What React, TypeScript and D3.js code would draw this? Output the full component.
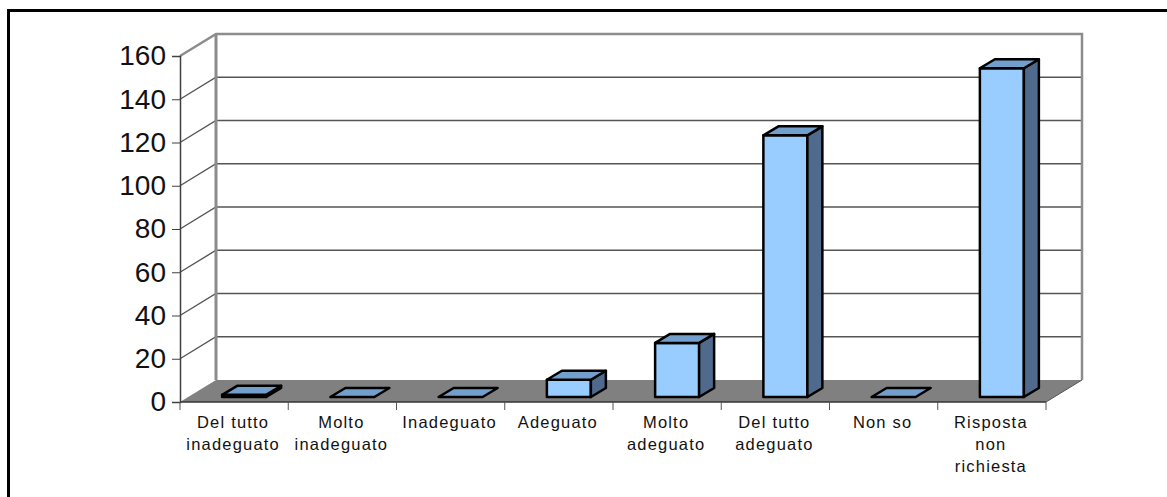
import { useEffect, useRef } from 'react';
import * as d3 from 'd3';

const categories = [
  'Del tutto\ninadeguato',
  'Molto\ninadeguato',
  'Inadeguato',
  'Adeguato',
  'Molto\nadeguato',
  'Del tutto\nadeguato',
  'Non so',
  'Risposta\nnon\nrichiesta',
];
const values = [1, 0, 0, 8, 25, 121, 0, 152];
const yTicks = [0, 20, 40, 60, 80, 100, 120, 140, 160];

const width = 1167;
const height = 497;
const margin = { top: 56, right: 121, bottom: 95, left: 180 };
// how far the back wall sits behind the front axis
const depth = { x: 36, y: 22 };
// bar placement on the floor
const barShift = { x: 10, y: 5 };
const barDepth = { x: 15, y: 9 };
const barWidth = 44;

const App = () => {
  const ref = useRef<SVGSVGElement | null>(null);

  useEffect(() => {
    const svg = d3.select(ref.current);
    svg.selectAll('*').remove();

    const x = d3.scaleBand<number>()
      .domain(categories.map((_, i) => i))
      .range([margin.left, width - margin.right]);
    const y = d3.scaleLinear().domain([0, 160]).range([height - margin.bottom, margin.top]);

    const x0 = x.range()[0];
    const x1 = x.range()[1];
    const y0 = y(0);
    const yTop = y(160);

    // outer frame runs off the picture on the right and bottom
    svg.append('rect')
      .attr('x', 8.5).attr('y', 10.5)
      .attr('width', width + 20).attr('height', height + 20)
      .attr('fill', 'white').attr('stroke', 'black').attr('stroke-width', 3);

    // floor
    svg.append('path')
      .attr('d', `M${x0},${y0}L${x0 + depth.x},${y0 - depth.y}L${x1 + depth.x},${y0 - depth.y}L${x1},${y0}Z`)
      .attr('fill', '#808080');

    // grid on back wall and side wall
    svg.append('g').selectAll('path')
      .data(yTicks.slice(1, -1))
      .enter()
      .append('path')
      .attr('d', (d) => `M${x0},${y(d)}L${x0 + depth.x},${y(d) - depth.y}L${x1 + depth.x},${y(d) - depth.y}`)
      .attr('fill', 'none')
      .attr('stroke', '#555')
      .attr('stroke-width', 1.4);

    // wall outline
    svg.append('path')
      .attr('d', `M${x0},${yTop}L${x0 + depth.x},${yTop - depth.y}L${x1 + depth.x},${yTop - depth.y}L${x1 + depth.x},${y0 - depth.y}`)
      .attr('fill', 'none')
      .attr('stroke', '#8c8c8c')
      .attr('stroke-width', 2.5);
    svg.append('path')
      .attr('d', `M${x0 + depth.x},${yTop - depth.y}L${x0 + depth.x},${y0 - depth.y}`)
      .attr('stroke', '#8c8c8c')
      .attr('stroke-width', 3);
    svg.append('path')
      .attr('d', `M${x1},${y0}L${x1 + depth.x},${y0 - depth.y}`)
      .attr('stroke', '#555')
      .attr('stroke-width', 1);

    // bars
    const bars = svg.append('g').selectAll('g')
      .data(values)
      .enter()
      .append('g')
      .attr('stroke', 'black')
      .attr('stroke-width', 2.5)
      .attr('stroke-linejoin', 'round');

    const left = (i: number) => x(i)! + x.bandwidth() / 2 + barShift.x - barWidth / 2;
    const top = (d: number) => y(d) - barShift.y;

    bars.filter((d) => d > 0).append('rect')
      .attr('x', (d) => left(values.indexOf(d)))
      .attr('y', (d) => top(d))
      .attr('width', barWidth)
      .attr('height', (d) => y0 - y(d))
      .attr('fill', '#99ccff');

    bars.filter((d) => d > 0).append('path')
      .attr('d', (d) => {
        const r = left(values.indexOf(d)) + barWidth;
        return `M${r},${top(d)}L${r + barDepth.x},${top(d) - barDepth.y}L${r + barDepth.x},${y0 - barShift.y - barDepth.y}L${r},${y0 - barShift.y}Z`;
      })
      .attr('fill', '#4f6a8c');

    bars.append('path')
      .attr('d', (d, i) => {
        const l = left(i);
        const t = top(d);
        return `M${l},${t}L${l + barDepth.x},${t - barDepth.y}L${l + barWidth + barDepth.x},${t - barDepth.y}L${l + barWidth},${t}Z`;
      })
      .attr('fill', '#729fcc');

    // y axis
    const yAxis = svg.append('g')
      .attr('transform', `translate(${x0},0)`)
      .call(d3.axisLeft(y).tickValues(yTicks).tickSize(8).tickPadding(6));
    yAxis.select('.domain').attr('stroke', '#404040').attr('stroke-width', 1.5);
    yAxis.selectAll('.tick line').attr('stroke', '#404040');
    yAxis.selectAll('.tick text')
      .attr('fill', '#111')
      .style('font-family', '"Liberation Sans", Arial, sans-serif')
      .style('font-size', '28px');

    // x axis
    const xAxis = svg.append('g').attr('transform', `translate(0,${y0})`);
    xAxis.append('line')
      .attr('x1', x0).attr('x2', x1)
      .attr('stroke', '#333').attr('stroke-width', 1.5);
    xAxis.selectAll('.tick')
      .data(d3.range(categories.length + 1))
      .enter()
      .append('line')
      .attr('class', 'tick')
      .attr('x1', (i) => x0 + i * x.step())
      .attr('x2', (i) => x0 + i * x.step())
      .attr('y2', 8)
      .attr('stroke', '#555');

    const labels = svg.append('g').selectAll('text')
      .data(categories)
      .enter()
      .append('text')
      .attr('text-anchor', 'middle')
      .attr('fill', '#111')
      .style('font-family', '"Liberation Sans", Arial, sans-serif')
      .style('font-size', '16.5px')
      .style('letter-spacing', '1.2px');

    labels.each((d, i, n) => {
      d.split('\n').forEach((line, k) => {
        d3.select(n[i]).append('tspan')
          .attr('x', x(i)! + x.bandwidth() / 2 - 1)
          .attr('y', y0 + 26 + k * 22)
          .text(line);
      });
    });
  }, []);

  return (
    <svg
      ref={ref}
      width={width}
      height={height}
      style={{ position: 'absolute', left: 0, top: 0, background: 'white' }}
    />
  );
};

export default App;
